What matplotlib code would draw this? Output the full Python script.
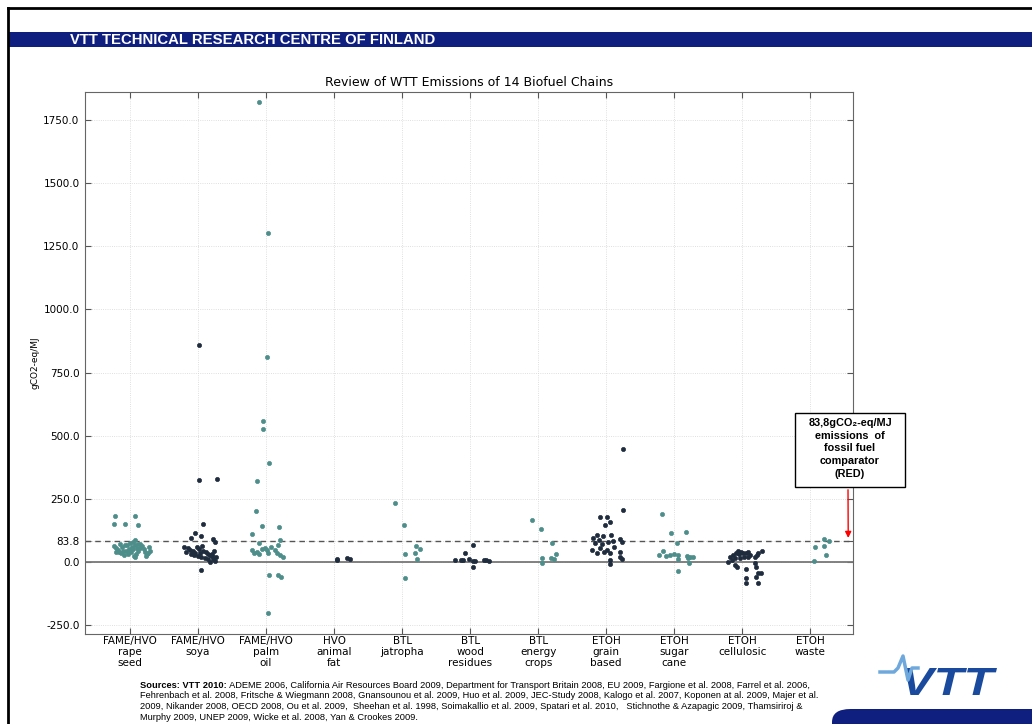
import matplotlib
matplotlib.use("Agg")
import matplotlib.pyplot as plt
from matplotlib.patches import Rectangle, FancyBboxPatch, PathPatch
from matplotlib.lines import Line2D
from matplotlib.textpath import TextPath
from matplotlib.font_manager import FontProperties
from matplotlib.transforms import Affine2D, IdentityTransform

# categories (x tick labels) and emission readings, gCO2-eq/MJ
categories = ["FAME/HVO\nrape\nseed", "FAME/HVO\nsoya", "FAME/HVO\npalm\noil",
              "HVO\nanimal\nfat", "BTL\njatropha", "BTL\nwood\nresidues",
              "BTL\nenergy\ncrops", "ETOH\ngrain\nbased", "ETOH\nsugar\ncane",
              "ETOH\ncellulosic", "ETOH\nwaste"]

rape_vals = [180, 180, 151, 151, 148, 87, 62, 55, 48, 40, 70, 58, 45, 35, 65, 52, 42, 30,
             75, 60, 50, 38, 25, 68, 55, 45, 33, 20, 72, 62, 50, 40, 30, 58, 45, 35, 65,
             40, 80, 28, 55, 48, 70, 22]
rape_off = [-0.22, 0.08, -0.235, -0.08, 0.11, 0.08, -0.23, -0.2, -0.18, -0.21, -0.15, -0.12,
            -0.1, -0.13, -0.05, -0.02, -0.06, -0.03, 0.0, 0.03, 0.05, 0.02, 0.06, 0.08, 0.1,
            0.12, 0.09, 0.07, 0.15, 0.18, 0.2, 0.22, 0.25, 0.28, 0.3, 0.27, -0.08, -0.16,
            0.04, -0.09, 0.15, -0.01, 0.12, 0.24]

soya_vals = [858, 323, 329, 151, 115, 103, 95, 91, 77, -32, 60, 55, 48, 42, 38, 35, 30,
             25, 20, 15, 50, 45, 40, 33, 28, 22, 12, 5, 0, 58, 36, 18, 44, 26, 10, 62, 31]
soya_off = [0.01, 0.01, 0.28, 0.07, -0.04, 0.05, -0.1, 0.22, 0.25, 0.04, -0.2, -0.15,
            -0.12, -0.08, -0.17, -0.04, -0.1, 0.0, 0.05, 0.1, 0.02, 0.08, 0.12, 0.15, 0.18,
            0.2, 0.22, 0.25, 0.17, -0.02, 0.03, 0.26, 0.24, -0.06, 0.14, 0.06, 0.21]

palm_vals = [1823, 1302, 810, 558, 527, 392, 320, 202, 144, 140, 110, 85, 75, 48, 41, 52,
             56, 36, 61, 48, 67, 34, 28, 19, 31, 48, 37, -52, -52, -61, -204]
palm_off = [-0.11, 0.03, 0.01, -0.04, -0.04, 0.04, -0.13, -0.15, -0.06, 0.19, -0.2, 0.21,
            -0.1, -0.21, -0.14, -0.06, -0.01, 0.03, 0.08, 0.13, 0.18, 0.16, 0.21, 0.25,
            -0.11, 0.01, -0.18, 0.04, 0.18, 0.22, 0.03]

fat_vals = [12, 15, 11, 8]
fat_off = [0.04, 0.19, 0.23, 0.05]

jatropha_vals = [233, 146, 31, -65, 64, 53, 36, 11]
jatropha_off = [-0.1, 0.03, 0.04, 0.04, 0.21, 0.26, 0.19, 0.22]

wood_vals = [67, 36, 9, 8, 8, 12, 4, -20, 8, 7, 5, 5]
wood_off = [0.04, -0.08, -0.22, -0.14, -0.11, -0.01, 0.04, 0.04, 0.2, 0.24, 0.28, 0.07]

energy_vals = [167, 132, 74, 33, 16, -3, 16, 11]
energy_off = [-0.09, 0.04, 0.21, 0.26, 0.06, 0.05, 0.19, 0.23]

grain_vals = [449, 206, 177, 177, 160, 147, 107, 107, 103, 94, 90, 85, 81, 74, 71, 77, 77,
              48, 54, 48, 61, 37, 41, 34, 41, 21, 11, 8, -9]
grain_off = [0.25, 0.25, -0.09, 0.01, 0.05, -0.01, 0.07, -0.13, -0.04, -0.19, 0.21, -0.11,
             0.1, -0.16, -0.06, 0.03, 0.23, -0.21, -0.09, 0.01, 0.11, -0.13, -0.03, 0.06,
             0.2, 0.21, 0.23, 0.05, 0.05]

sugar_vals = [189, 114, 117, 74, 45, 28, 24, 28, 32, 28, 11, -35, 24, 21, 19, -3, 15]
sugar_off = [-0.18, -0.05, 0.18, 0.04, -0.17, -0.22, -0.12, -0.06, 0.0, 0.05, 0.06, 0.05,
             0.19, 0.24, 0.28, 0.22, 0.21]

cellulosic_vals = [1, 21, 28, 34, 32, 41, 34, 37, 41, 15, 15, 19, 21, 21, 34, 45, 28, -12,
                   -21, -29, -65, -85, -5, -19, -42, -42, -61, -82, 8, 28, 45]
cellulosic_off = [-0.21, -0.18, -0.13, -0.09, -0.05, -0.01, 0.02, 0.05, 0.09, -0.1, -0.03,
                  0.03, 0.08, 0.19, 0.24, 0.29, 0.22, -0.1, -0.08, 0.05, 0.05, 0.05, 0.19,
                  0.2, 0.24, 0.28, 0.2, 0.23, -0.15, 0.12, -0.06]

waste_vals = [58, 5, 64, 29, 90, 83]
waste_off = [0.07, 0.06, 0.2, 0.24, 0.21, 0.28]

all_vals = [rape_vals, soya_vals, palm_vals, fat_vals, jatropha_vals, wood_vals,
            energy_vals, grain_vals, sugar_vals, cellulosic_vals, waste_vals]
all_off = [rape_off, soya_off, palm_off, fat_off, jatropha_off, wood_off,
           energy_off, grain_off, sugar_off, cellulosic_off, waste_off]

fossil_ref = 83.8
yticks = [-250, 0, 83.8, 250, 500, 750, 1000, 1250, 1500, 1750]

sources_bold = "Sources: VTT 2010:"
sources_lines = [
    " ADEME 2006, California Air Resources Board 2009, Department for Transport Britain 2008, EU 2009, Fargione et al. 2008, Farrel et al. 2006,",
    "Fehrenbach et al. 2008, Fritsche & Wiegmann 2008, Gnansounou et al. 2009, Huo et al. 2009, JEC-Study 2008, Kalogo et al. 2007, Koponen at al. 2009, Majer et al.",
    "2009, Nikander 2008, OECD 2008, Ou et al. 2009,  Sheehan et al. 1998, Soimakallio et al. 2009, Spatari et al. 2010,   Stichnothe & Azapagic 2009, Thamsiriroj &",
    "Murphy 2009, UNEP 2009, Wicke et al. 2008, Yan & Crookes 2009.",
]

teal = "#4d8e8b"
dark = "#1f2c3e"
navy = "#0f1f80"

W, H = 1032, 724
fig = plt.figure(figsize=(W / 100, H / 100), dpi=100)
fig.patch.set_facecolor("white")

def fx(px):
    return px / W

def fy(py):
    return 1 - py / H

# slide decoration
fig.add_artist(Line2D([fx(8), 1], [fy(8), fy(8)], color="black", lw=2, transform=fig.transFigure))
fig.add_artist(Line2D([fx(8), fx(8)], [fy(8), 0], color="black", lw=2, transform=fig.transFigure))
fig.add_artist(Rectangle((fx(8), fy(47)), 1 - fx(8), fy(32) - fy(47), transform=fig.transFigure,
                         color=navy, lw=0))
fig.text(fx(70), fy(40), "VTT TECHNICAL RESEARCH CENTRE OF FINLAND", color="white",
         fontsize=10.7, fontweight="bold", family="Liberation Sans", va="center")
fig.add_artist(FancyBboxPatch((fx(832), fy(740)), 0.3, fy(709) - fy(740),
                              boxstyle="round,pad=0,rounding_size=0.018",
                              transform=fig.transFigure, color=navy, lw=0))

# VTT logo
fig.add_artist(Line2D([fx(880), fx(894), fx(898), fx(903), fx(908), fx(912), fx(918)],
                      [fy(672), fy(672), fy(668), fy(656), fy(680), fy(668), fy(668)],
                      color="#6fa8dc", lw=2.5, transform=fig.transFigure))
logo = TextPath((0, 0), "VTT", size=1, prop=FontProperties(family="Liberation Sans",
                                                           weight="bold", style="italic"))
ext = logo.get_extents()
sx = 92 / ext.width
sy = 27 / ext.height
logo_tr = Affine2D().translate(-ext.x0, -ext.y0).scale(sx, sy).translate(905, H - 695)
fig.add_artist(PathPatch(logo, transform=logo_tr + IdentityTransform(), color="#1a4a9e", lw=0))

# main axes
ax = fig.add_axes([fx(85), fy(634), fx(853) - fx(85), fy(92) - fy(634)])
positions = list(range(len(categories)))
for i, (vals, offs) in enumerate(zip(all_vals, all_off)):
    col = teal if i % 2 == 0 else dark
    ax.plot([positions[i] + o for o in offs], vals, "o", ms=3.0, color=col, mec=col,
            mew=0.5, zorder=3)

ax.axhline(0, color="#777777", lw=1.3, zorder=2)
ax.axhline(fossil_ref, color="#555555", lw=1, ls=(0, (4, 3)), zorder=2)

ax.set_xlim(-0.662, 10.63)
ax.set_ylim(-285.5, 1861)
ax.set_xticks(positions)
ax.set_xticklabels(categories, fontsize=7.5, linespacing=1.12)
ax.set_yticks(yticks)
ax.set_yticklabels(["%.1f" % t for t in yticks], fontsize=7.5)
ax.tick_params(direction="in", top=True, right=True, length=4, color="#555555")
ax.tick_params(axis="x", pad=1.5)
ax.tick_params(axis="y", pad=4)
ax.grid(True, ls=":", color="#d5d5d5", lw=0.6)
for s in ax.spines.values():
    s.set_color("#666666")
ax.set_title("Review of WTT Emissions of 14 Biofuel Chains", fontsize=9, pad=4)
ax.set_ylabel("gCO2-eq/MJ", fontsize=6.5, labelpad=3)

# annotation box for fossil comparator
fig.add_artist(Rectangle((fx(795), fy(487)), fx(905) - fx(795), fy(413) - fy(487),
                         transform=fig.transFigure, facecolor="white", edgecolor="black",
                         lw=1, zorder=5))
box_lines = ["83,8gCO\u2082-eq/MJ", "emissions  of", "fossil fuel", "comparator", "(RED)"]
for k, line in enumerate(box_lines):
    fig.text(fx(850), fy(423 + 12.7 * k), line, fontsize=7.8, fontweight="bold",
             family=["Liberation Sans", "DejaVu Sans"], ha="center", va="center", zorder=6)
ax.annotate("", xy=(10.56, fossil_ref), xycoords="data",
            xytext=(fx(848), fy(487)), textcoords="figure fraction",
            arrowprops=dict(arrowstyle="-|>", color="red", lw=1, mutation_scale=9))

# sources footnote
src_font = ["Liberation Sans Narrow", "Liberation Sans"]
tb = fig.text(fx(140), fy(688), sources_bold, fontsize=6.7, fontweight="bold",
              family=src_font, va="baseline")
ax.annotate(sources_lines[0], xy=(1, 0), xycoords=tb, fontsize=6.7,
            family=src_font, va="bottom", annotation_clip=False)
for k, line in enumerate(sources_lines[1:]):
    fig.text(fx(140), fy(698.5 + 10.5 * k), line, fontsize=6.7,
             family=src_font, va="baseline")

fig.savefig("out.png", dpi=100)
